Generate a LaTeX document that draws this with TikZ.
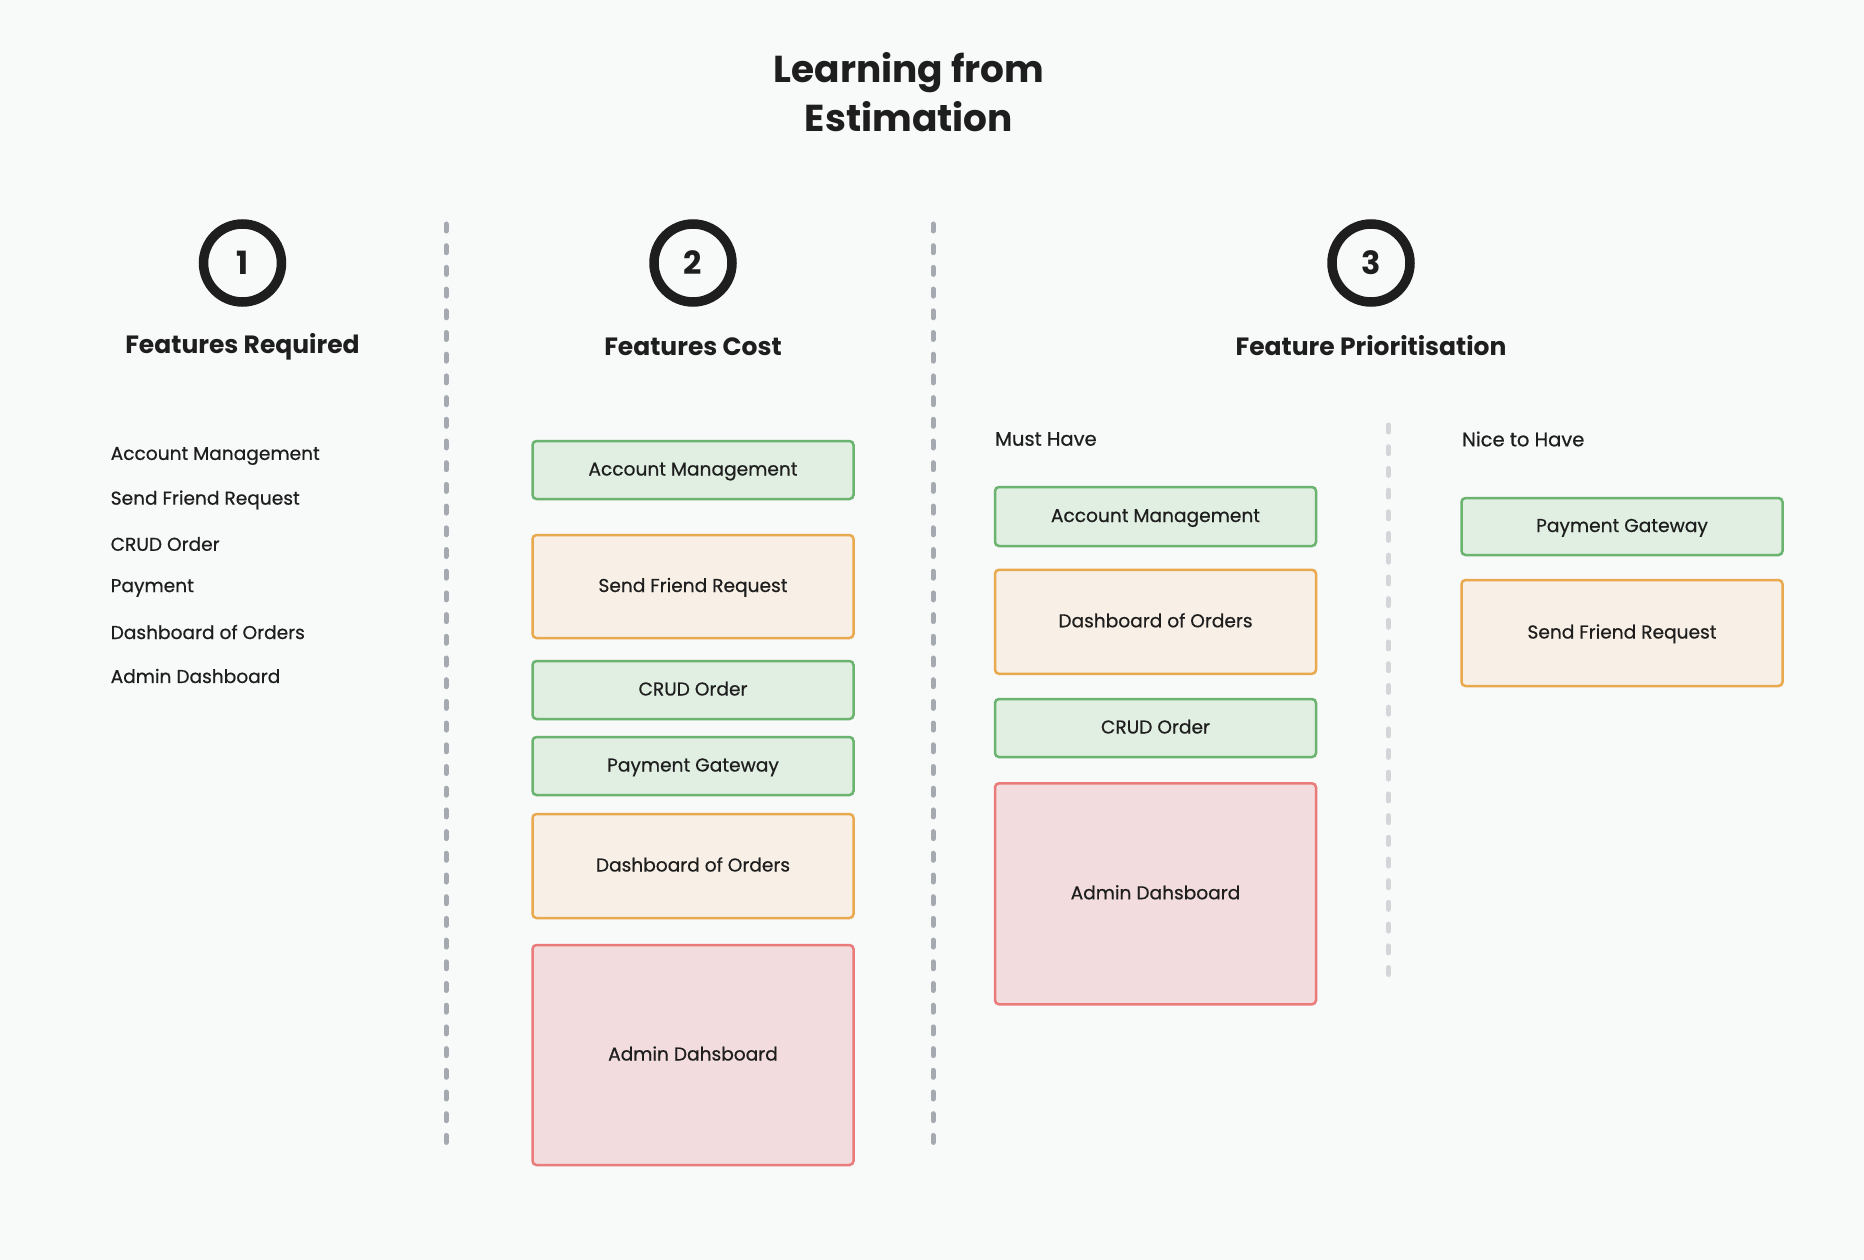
\documentclass[tikz,border=0pt]{standalone}
\usepackage{fontspec}
\setmainfont{Poppins}[FakeBold=0.6]
\newfontfamily\headfont{Poppins}
\definecolor{bg}{HTML}{F8F9F9}
\definecolor{ink}{HTML}{1E1E1E}
\definecolor{gfill}{HTML}{E0EFE2}
\definecolor{gline}{HTML}{6BB46F}
\definecolor{ofill}{HTML}{F8F0E6}
\definecolor{oline}{HTML}{E9A94E}
\definecolor{rfill}{HTML}{F2DCDD}
\definecolor{rline}{HTML}{E97C7A}
\definecolor{sepdark}{HTML}{A5A9B0}
\definecolor{seplight}{HTML}{D3D5D9}
\tikzset{
  card/.style={rectangle, rounded corners=4pt, line width=2.5pt, minimum width=321pt, inner sep=0pt, text height=1.17em, text depth=0.07em, font=\fontsize{18.6}{22}\selectfont, text=ink},
  gcard/.style={card, draw=gline, fill=gfill},
  ocard/.style={card, draw=oline, fill=ofill},
  rcard/.style={card, draw=rline, fill=rfill},
  numcirc/.style={circle, draw=ink, line width=9.5pt, minimum size=78pt, inner sep=0pt, font=\headfont\fontsize{32}{36}\selectfont\bfseries, text=ink},
  heading/.style={font=\headfont\fontsize{25}{30}\selectfont\bfseries, text=ink},
  item/.style={anchor=west, font=\fontsize{18.6}{22}\selectfont, text=ink, inner sep=0pt},
  sublabel/.style={anchor=west, font=\fontsize{19.5}{22}\selectfont, text=ink, inner sep=0pt},
  sepline/.style={line width=5pt, line cap=round, dash pattern=on 7pt off 14.7pt},
}
\begin{document}
\begin{tikzpicture}[x=1pt,y=-1pt]
\fill[bg] (0,0) rectangle (1864,1260);
\useasboundingbox (0,0) rectangle (1864,1260);

% title
\node[font=\headfont\fontsize{37.5}{49}\selectfont\bfseries, text=ink, align=center] (title) at (909,92) {Learning from\\Estimation};

% separators
\draw[sepline, draw=sepdark] (446,224) -- (446,1148);
\draw[sepline, draw=sepdark] (933,224) -- (933,1148);
\draw[sepline, draw=seplight] (1388.5,425) -- (1388.5,975);

% numbers
\node[numcirc] (n1) at (242.5,263) {1};
\node[numcirc] (n2) at (693,263) {2};
\node[numcirc] (n3) at (1371,263) {3};

% headings
\node[heading] (h1) at (242.5,347) {Features Required};
\node[heading] (h2) at (693,347) {Features Cost};
\node[heading] (h3) at (1371,346) {Feature Prioritisation};

% column 1 list
\node[item] (l1) at (110.5,456) {Account Management};
\node[item] (l2) at (110.5,500) {Send Friend Request};
\node[item] (l3) at (110.5,544) {CRUD Order};
\node[item] (l4) at (110.5,588) {Payment};
\node[item] (l5) at (110.5,632) {Dashboard of Orders};
\node[item] (l6) at (110.5,676) {Admin Dashboard};

% column 2 cards
\node[gcard, minimum height=58pt] (c2a) at (693,470) {Account Management};
\node[ocard, minimum height=103pt] (c2b) at (693,586.5) {Send Friend Request};
\node[gcard, minimum height=58pt] (c2c) at (693,690) {CRUD Order};
\node[gcard, minimum height=58pt] (c2d) at (693,766) {Payment Gateway};
\node[ocard, minimum height=104pt] (c2e) at (693,866) {Dashboard of Orders};
\node[rcard, minimum height=220pt] (c2f) at (693,1055) {Admin Dahsboard};

% column 3: must have
\node[sublabel] (must) at (995,439) {Must Have};
\node[gcard, minimum height=59pt] (c3a) at (1155.5,516.5) {Account Management};
\node[ocard, minimum height=104pt] (c3b) at (1155.5,621.8) {Dashboard of Orders};
\node[gcard, minimum height=58pt] (c3c) at (1155.5,728) {CRUD Order};
\node[rcard, minimum height=221pt] (c3d) at (1155.5,893.8) {Admin Dahsboard};

% column 3: nice to have
\node[sublabel] (nice) at (1462,439) {Nice to Have};
\node[gcard, minimum height=57pt] (c4a) at (1622,526.5) {Payment Gateway};
\node[ocard, minimum height=106pt] (c4b) at (1622,633) {Send Friend Request};
\end{tikzpicture}
\end{document}
